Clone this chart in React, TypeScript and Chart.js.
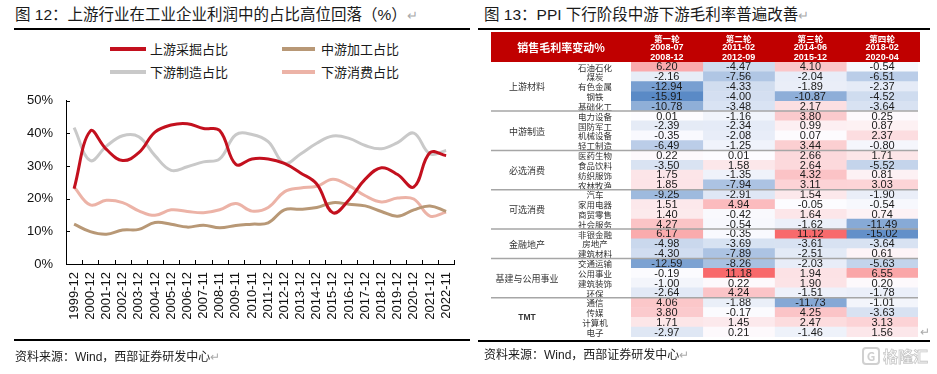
import React, { useEffect, useRef } from 'react';
import { Chart, registerables } from 'chart.js';

Chart.register(...registerables);

// ---------- Left chart data ----------
const years = ['1999-12','2000-12','2001-12','2002-12','2003-12','2004-12','2005-12','2006-12','2007-11','2008-11','2009-11','2010-11','2011-12','2012-12','2013-12','2014-12','2015-12','2016-12','2017-12','2018-12','2019-12','2020-12','2021-12','2022-11'];
const seriesNames = ['上游采掘占比', '中游加工占比', '下游制造占比', '下游消费占比'];
const upstreamMining = [23.1, 40.7, 35.1, 31.7, 34.1, 40.4, 42.6, 43.0, 41.5, 40.9, 30.5, 32.2, 32.2, 30.8, 27.9, 24.5, 15.7, 19.7, 26.0, 29.5, 27.4, 23.6, 34.1, 33.2];
const midProcessing = [12.2, 9.9, 9.1, 10.4, 10.6, 12.7, 12.2, 11.3, 11.9, 11.1, 11.8, 12.2, 12.6, 16.6, 16.8, 17.3, 18.8, 18.3, 17.8, 16.1, 14.6, 16.6, 17.8, 16.1];
const downManufacturing = [41.8, 31.7, 36.1, 39.3, 39.0, 33.2, 28.7, 29.8, 31.3, 32.2, 39.6, 39.7, 37.5, 30.8, 33.7, 37.0, 39.2, 38.5, 36.3, 35.3, 37.2, 40.1, 33.7, 34.8];
const downConsumption = [23.6, 18.1, 19.5, 18.8, 16.3, 14.9, 16.6, 16.1, 15.7, 16.6, 18.5, 16.2, 17.3, 22.1, 23.3, 23.8, 26.0, 24.0, 20.9, 19.0, 20.2, 19.9, 14.7, 15.9];
const yTicks = [0, 10, 20, 30, 40, 50];

// ---------- Right table data ----------
const headerTitle = '销售毛利率变动%';
const roundNames = ['第一轮', '第二轮', '第三轮', '第四轮'];
const roundStarts = ['2008-07', '2011-02', '2014-06', '2018-02'];
const roundEnds = ['2008-12', '2012-09', '2015-12', '2020-04'];
const groups = ['上游材料', '中游制造', '必选消费', '可选消费', '金融地产', '基建与公用事业', 'TMT'];
const groupSizes = [5, 4, 4, 4, 3, 4, 4];
const industries = ['石油石化','煤炭','有色金属','钢铁','基础化工','电力设备','国防军工','机械设备','轻工制造','医药生物','食品饮料','纺织服饰','农林牧渔','汽车','家用电器','商贸零售','社会服务','非银金融','房地产','建筑材料','交通运输','公用事业','建筑装饰','环保','通信','传媒','计算机','电子'];
const round1 = [6.20, -2.16, -12.94, -15.91, -10.78, 0.01, -2.39, -0.35, -6.49, 0.22, -3.50, 1.75, 1.85, -9.25, 1.51, 1.40, 4.27, 6.17, -4.98, -4.30, -12.59, -0.19, -1.00, -2.64, 4.06, 3.80, 1.71, -2.97];
const round2 = [-4.47, -7.56, -4.33, -4.00, -3.48, -1.16, -2.34, -2.08, -1.25, 0.01, 1.58, -1.35, -7.94, -2.91, 4.94, -0.42, -0.54, -0.35, -3.69, -7.89, -8.26, 11.18, 0.22, 4.24, -1.88, -0.17, 1.45, 0.21];
const round3 = [4.10, -2.04, -1.89, -10.87, 2.17, 3.80, 0.99, 0.07, 3.44, 2.66, 2.64, 4.32, 3.11, 1.54, -0.05, 1.64, -1.62, 11.12, -3.61, -2.51, -2.03, 1.94, 1.90, -1.51, -11.73, 4.25, 2.47, -1.46];
const round4 = [-0.54, -6.51, -2.37, -4.52, -3.64, 0.25, 0.87, 2.37, -0.80, 1.71, -5.52, 0.81, 3.03, -1.90, -0.54, 0.74, -11.49, -15.02, -3.64, 0.61, -5.63, 6.55, 0.20, -1.78, -1.01, -3.63, 3.13, 1.56];

// ---------- styles ----------
const seriesColors = ['#C3101E', '#B89876', '#C9C9C9', '#ECB3A7'];
const LATIN = '"Liberation Sans", Arial, "Noto Sans CJK SC", sans-serif';
const CJK = '"Noto Sans CJK SC", "Liberation Sans", sans-serif';

const rounds = [round1, round2, round3, round4];
const allVals = rounds.flat();
const maxV = Math.max(...allVals);
const minV = Math.min(...allVals);
function mix(a: number[], b: number[], t: number) {
  const k = Math.max(0, Math.min(1, t));
  const c = a.map((av, i) => Math.round(av + (b[i] - av) * k));
  return `rgb(${c[0]},${c[1]},${c[2]})`;
}
function cellColor(v: number) {
  return v >= 0 ? mix([253, 252, 255], [248, 105, 107], v / maxV) : mix([253, 252, 255], [90, 138, 198], v / minV);
}

const innerTicks = {
  id: 'innerTicks',
  afterDraw(chart: any) {
    const { ctx, chartArea: a, scales } = chart;
    ctx.save();
    ctx.strokeStyle = '#000';
    ctx.lineWidth = 1;
    ctx.beginPath();
    yTicks.forEach((v) => {
      const y = Math.round(scales.y.getPixelForValue(v)) + 0.5;
      ctx.moveTo(a.left, y);
      ctx.lineTo(a.left + 4, y);
    });
    const n = years.length;
    for (let i = 0; i <= n; i++) {
      const x = Math.round(a.left + ((a.right - a.left) * i) / n) + 0.5;
      ctx.moveTo(x, a.bottom);
      ctx.lineTo(x, a.bottom - 4);
    }
    ctx.stroke();
    ctx.restore();
  },
};

const tablePlugin = {
  id: 'tableText',
  afterDatasetsDraw(chart: any) {
    const { ctx, chartArea: a, scales } = chart;
    const x = scales.x;
    const y = scales.y;
    ctx.save();
    // header band
    const hx0 = 11;
    const hx1 = 440;
    const hy0 = 2;
    const hy1 = a.top;
    ctx.fillStyle = '#C00000';
    ctx.fillRect(hx0, hy0, hx1 - hx0, hy1 - hy0);
    ctx.fillStyle = '#fff';
    ctx.textAlign = 'center';
    ctx.textBaseline = 'middle';
    ctx.font = `bold 11px ${CJK}`;
    ctx.fillText(headerTitle, (hx0 + a.left) / 2, (hy0 + hy1) / 2 + 1);
    roundNames.forEach((nm, c) => {
      const cx = x.getPixelForValue(c + 0.5);
      ctx.font = `bold 8.5px ${CJK}`;
      ctx.fillText(nm, cx, hy0 + 6.5);
      ctx.font = `bold 9px ${LATIN}`;
      ctx.fillText(roundStarts[c], cx, hy0 + 16);
      ctx.fillText(roundEnds[c], cx, hy0 + 25.5);
    });
    // values
    ctx.fillStyle = '#1a1a1a';
    ctx.font = `11px ${LATIN}`;
    rounds.forEach((vals, c) => {
      const meta = chart.getDatasetMeta(c);
      meta.data.forEach((el: any, r: number) => {
        ctx.fillText(vals[r].toFixed(2), (el.x + el.base) / 2, el.y + 0.5);
      });
    });
    // industry names
    ctx.fillStyle = '#333';
    ctx.font = `8.5px ${CJK}`;
    industries.forEach((n, r) => {
      ctx.fillText(n, 115, y.getPixelForValue(r) + 0.5);
    });
    // group labels & separators
    let start = 0;
    groups.forEach((g, gi) => {
      const end = start + groupSizes[gi] - 1;
      const cy = (y.getPixelForValue(start) + y.getPixelForValue(end)) / 2;
      ctx.fillStyle = '#333';
      ctx.font = g === 'TMT' ? `bold 8.5px ${LATIN}` : `9px ${CJK}`;
      ctx.fillText(g, 47, cy + 0.5);
      if (gi < groups.length - 1) {
        const ly = (y.getPixelForValue(end) + y.getPixelForValue(end + 1)) / 2;
        ctx.strokeStyle = '#A6A6A6';
        ctx.lineWidth = 1.5;
        ctx.beginPath();
        ctx.moveTo(hx0, ly);
        ctx.lineTo(a.right, ly);
        ctx.stroke();
      }
      start = end + 1;
    });
    ctx.restore();
  },
};

export default function App() {
  const lineRef = useRef<HTMLCanvasElement>(null);
  const tableRef = useRef<HTMLCanvasElement>(null);

  useEffect(() => {
    const seriesData = [upstreamMining, midProcessing, downManufacturing, downConsumption];
    const lineChart = new Chart(lineRef.current as HTMLCanvasElement, {
      type: 'line',
      data: {
        labels: years,
        datasets: seriesNames.map((name, i) => ({
          label: name,
          data: seriesData[i],
          borderColor: seriesColors[i],
          backgroundColor: seriesColors[i],
          borderWidth: 3,
          pointRadius: 0,
          tension: 0.4,
          fill: false,
        })),
      },
      options: {
        animation: false,
        responsive: false,
        devicePixelRatio: 1,
        layout: { padding: { top: 11, right: 13, left: 0, bottom: 0 } },
        plugins: { legend: { display: false }, tooltip: { enabled: false } },
        scales: {
          x: {
            offset: true,
            grid: { display: false, drawTicks: false },
            border: { display: true, color: '#000', width: 1 },
            ticks: {
              autoSkip: false,
              minRotation: 90,
              maxRotation: 90,
              padding: 8,
              color: '#111',
              font: { family: LATIN, size: 13 },
            },
            afterFit: (s: any) => { s.height = 78; },
          },
          y: {
            min: 0,
            max: 50,
            grid: { display: false, drawTicks: false },
            border: { display: true, color: '#000', width: 1 },
            ticks: {
              stepSize: 10,
              padding: 13,
              color: '#111',
              font: { family: LATIN, size: 13 },
              callback: (v: any) => `${v}%`,
            },
            afterFit: (s: any) => { s.width = 66; },
          },
        },
      } as any,
      plugins: [innerTicks],
    });

    const tableChart = new Chart(tableRef.current as HTMLCanvasElement, {
      type: 'bar',
      data: {
        labels: industries,
        datasets: rounds.map((vals, c) => ({
          label: roundNames[c],
          data: vals.map(() => [c, c + 1]),
          backgroundColor: vals.map(cellColor),
          borderWidth: 0,
          borderSkipped: false,
          barPercentage: 1,
          categoryPercentage: 1,
          grouped: false,
        })),
      } as any,
      options: {
        indexAxis: 'y',
        animation: false,
        responsive: false,
        devicePixelRatio: 1,
        layout: { padding: { left: 151, right: 14, top: 32, bottom: 3 } },
        plugins: { legend: { display: false }, tooltip: { enabled: false } },
        scales: {
          x: { display: false, min: 0, max: 4 },
          y: { display: false },
        },
      } as any,
      plugins: [tablePlugin],
    });

    return () => {
      lineChart.destroy();
      tableChart.destroy();
    };
  }, []);

  const legendPos = [
    { line: 110, w: 36, text: 150, y: 49 },
    { line: 282, w: 33, text: 321, y: 49 },
    { line: 110, w: 36, text: 150, y: 72 },
    { line: 282, w: 33, text: 321, y: 72 },
  ];

  return (
    <div style={{ position: 'absolute', left: 0, top: 0, width: 937, height: 374, background: '#fff', overflow: 'hidden', fontFamily: LATIN, color: '#1a1a1a' }}>
      {/* Left title */}
      <div style={{ position: 'absolute', left: 15, top: 5, fontSize: 15.5, lineHeight: '20px', whiteSpace: 'nowrap' }}>
        图 12：上游行业在工业企业利润中的占比高位回落（%）<span style={{ color: '#aaa', fontSize: 13 }}>↵</span>
      </div>
      <div style={{ position: 'absolute', left: 14, top: 28, width: 456, height: 1.5, background: '#000' }} />
      {/* Legend */}
      {seriesNames.map((n, i) => (
        <React.Fragment key={n}>
          <div style={{ position: 'absolute', left: legendPos[i].line, top: legendPos[i].y - 2, width: legendPos[i].w, height: 4, background: seriesColors[i] }} />
          <div style={{ position: 'absolute', left: legendPos[i].text, top: legendPos[i].y - 9, fontSize: 13, lineHeight: '18px', fontFamily: CJK, whiteSpace: 'nowrap' }}>{n}</div>
        </React.Fragment>
      ))}
      <canvas ref={lineRef} width={470} height={262} style={{ position: 'absolute', left: 0, top: 80, width: 470, height: 262 }} />
      <div style={{ position: 'absolute', left: 14, top: 339, width: 456, height: 1.5, background: '#000' }} />
      <div style={{ position: 'absolute', left: 15, top: 349, fontSize: 12, lineHeight: '16px', whiteSpace: 'nowrap' }}>
        资料来源：Wind，西部证券研发中心<span style={{ color: '#aaa' }}>↵</span>
      </div>

      {/* Right title */}
      <div style={{ position: 'absolute', left: 484, top: 5, fontSize: 15.5, lineHeight: '20px', whiteSpace: 'nowrap' }}>
        图 13：PPI 下行阶段中游下游毛利率普遍改善<span style={{ color: '#aaa', fontSize: 13 }}>↵</span>
      </div>
      <div style={{ position: 'absolute', left: 478, top: 28, width: 452, height: 1.5, background: '#000' }} />
      <canvas ref={tableRef} width={452} height={310} style={{ position: 'absolute', left: 480, top: 30, width: 452, height: 310 }} />
      <div style={{ position: 'absolute', left: 920, top: 325, fontSize: 12, color: '#aaa' }}>↵</div>
      <div style={{ position: 'absolute', left: 478, top: 340, width: 452, height: 1.5, background: '#000' }} />
      <div style={{ position: 'absolute', left: 484, top: 347, fontSize: 12, lineHeight: '16px', whiteSpace: 'nowrap' }}>
        资料来源：Wind，西部证券研发中心<span style={{ color: '#aaa' }}>↵</span>
      </div>
      {/* watermark */}
      <div style={{ position: 'absolute', left: 862, top: 346, width: 72, display: 'flex', alignItems: 'center', gap: 3, whiteSpace: 'nowrap', color: '#fff', WebkitTextStroke: '0.8px #c8c8c8', fontWeight: 'bold', fontFamily: CJK, fontSize: 15, lineHeight: '20px' }}>
        <span style={{ display: 'inline-block', flex: '0 0 auto', width: 18, height: 18, border: '2px solid #d0d0d0', borderRadius: 4, fontSize: 12, lineHeight: '14px', textAlign: 'center', boxSizing: 'border-box', WebkitTextStroke: '0px', color: '#d0d0d0' }}>G</span>
        <span>格隆汇</span>
      </div>
    </div>
  );
}
